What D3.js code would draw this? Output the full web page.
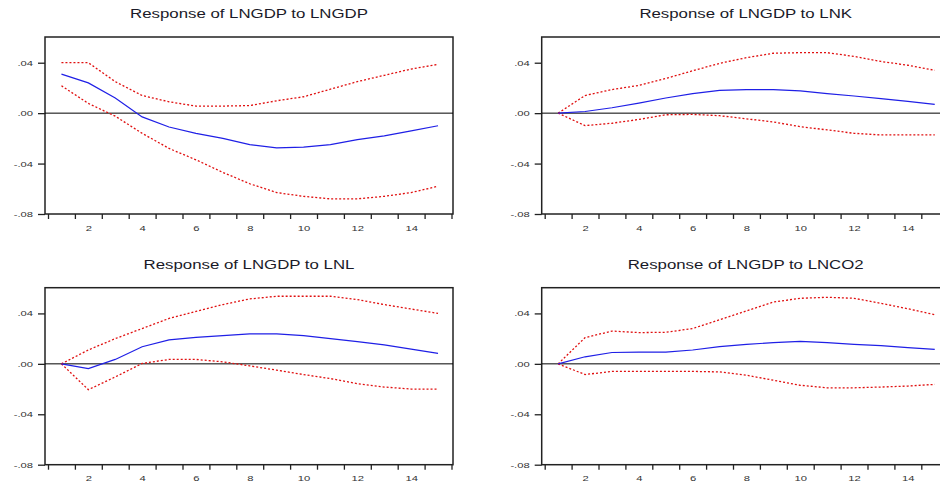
<!DOCTYPE html>
<html>
<head>
<meta charset="utf-8">
<script src="https://cdn.jsdelivr.net/npm/d3@7"></script>
<style>
body { margin: 0; background: #fff; }
svg { display: block; }
</style>
</head>
<body>
<div id="wrapper"></div>
<script>
// periods and axis labels
const periods = [1, 2, 3, 4, 5, 6, 7, 8, 9, 10, 11, 12, 13, 14, 15];
const xLabels = [2, 4, 6, 8, 10, 12, 14];
const yTicks = [-0.08, -0.04, 0, 0.04];
const yTickText = ["-.08", "-.04", ".00", ".04"];

// Response of LNGDP to LNGDP
const gdpTitle = "Response of LNGDP to LNGDP";
const gdpResp  = [0.031, 0.024, 0.012, -0.003, -0.011, -0.016, -0.020, -0.025, -0.0275, -0.027, -0.025, -0.021, -0.018, -0.014, -0.010];
const gdpUpper = [0.040, 0.040, 0.025, 0.014, 0.009, 0.0056, 0.0056, 0.006, 0.0098, 0.013, 0.019, 0.025, 0.030, 0.035, 0.0387];
const gdpLower = [0.0217, 0.0077, -0.0024, -0.016, -0.028, -0.037, -0.047, -0.056, -0.063, -0.066, -0.068, -0.068, -0.066, -0.063, -0.058];

// Response of LNGDP to LNK
const kTitle = "Response of LNGDP to LNK";
const kResp  = [0, 0.0013, 0.0043, 0.008, 0.012, 0.0155, 0.018, 0.0187, 0.0187, 0.0176, 0.0155, 0.0136, 0.0115, 0.0093, 0.007];
const kUpper = [0, 0.014, 0.0187, 0.022, 0.0275, 0.0336, 0.0395, 0.044, 0.0475, 0.048, 0.048, 0.045, 0.041, 0.038, 0.034];
const kLower = [0, -0.0099, -0.008, -0.005, -0.0013, -0.001, -0.002, -0.0045, -0.007, -0.0107, -0.0133, -0.016, -0.0173, -0.0173, -0.0173];

// Response of LNGDP to LNL
const lTitle = "Response of LNGDP to LNL";
const lResp  = [0, -0.0037, 0.0035, 0.0136, 0.019, 0.021, 0.0224, 0.0237, 0.0237, 0.0224, 0.020, 0.0176, 0.015, 0.0117, 0.0083];
const lUpper = [0, 0.011, 0.020, 0.028, 0.036, 0.0416, 0.047, 0.0515, 0.0536, 0.0536, 0.0536, 0.051, 0.047, 0.0435, 0.040];
const lLower = [0, -0.0205, -0.0104, 0.0003, 0.0035, 0.0035, 0.0016, -0.0016, -0.005, -0.0085, -0.0117, -0.0157, -0.0184, -0.020, -0.020];

// Response of LNGDP to LNCO2
const coTitle = "Response of LNGDP to LNCO2";
const coResp  = [0, 0.0056, 0.009, 0.0093, 0.0093, 0.011, 0.0136, 0.0155, 0.0168, 0.0179, 0.0168, 0.0155, 0.0144, 0.0128, 0.0115];
const coUpper = [0, 0.0208, 0.026, 0.0248, 0.025, 0.028, 0.035, 0.042, 0.049, 0.052, 0.0528, 0.052, 0.048, 0.0437, 0.039];
const coLower = [0, -0.0085, -0.006, -0.006, -0.006, -0.006, -0.0064, -0.009, -0.013, -0.017, -0.019, -0.019, -0.0184, -0.0176, -0.0163];

const panels = [
    { title: gdpTitle, resp: gdpResp, upper: gdpUpper, lower: gdpLower, left: 45, top: 37 },
    { title: kTitle, resp: kResp, upper: kUpper, lower: kLower, left: 541.7, top: 37 },
    { title: lTitle, resp: lResp, upper: lUpper, lower: lLower, left: 45, top: 287.7 },
    { title: coTitle, resp: coResp, upper: coUpper, lower: coLower, left: 541.7, top: 287.7 },
];

const dimensions = { width: 940, height: 481, plotWidth: 408, plotHeight: 177 };
const textStretch = 1.4; // the reference text is wider than normal

const wrapper = d3.select("#wrapper")
    .append("svg")
    .attr("width", dimensions.width)
    .attr("height", dimensions.height);

const xScaler = d3.scaleLinear()
    .domain([0.5, 15.5])
    .range([3, 406.5]);

const yScaler = d3.scaleLinear()
    .domain([-0.08, 0.0604])
    .range([dimensions.plotHeight, 0]);

// widen text horizontally, like the reference
function stretch(sel) {
    sel.each(function () {
        const len = this.getComputedTextLength();
        this.setAttribute("textLength", len * textStretch);
        this.setAttribute("lengthAdjust", "spacingAndGlyphs");
    });
}

const lineGen = d3.line()
    .x((d, i) => xScaler(periods[i]))
    .y(d => yScaler(d));

panels.forEach(p => {
    const bounds = wrapper.append("g")
        .attr("transform", `translate(${p.left},${p.top})`);

    // title
    bounds.append("text")
        .attr("x", dimensions.plotWidth / 2)
        .attr("y", -19)
        .attr("text-anchor", "middle")
        .attr("font-family", "Liberation Sans, Arial, sans-serif")
        .attr("font-size", "12px")
        .attr("fill", "#1a1a28")
        .text(p.title)
        .call(stretch);

    // y axis
    const yAxisGen = d3.axisLeft(yScaler)
        .tickValues(yTicks)
        .tickSize(7)
        .tickPadding(5)
        .tickFormat((d, i) => yTickText[i]);
    const yAxis = bounds.append("g").call(yAxisGen);
    yAxis.select(".domain").remove();
    yAxis.selectAll("line").attr("stroke", "#222").attr("stroke-width", 1.3);
    yAxis.selectAll("text")
        .attr("font-family", "Liberation Sans, Arial, sans-serif")
        .attr("font-size", "8px")
        .attr("fill", "#333")
        .call(stretch);

    // x axis ticks at period boundaries
    const xAxisGen = d3.axisBottom(xScaler)
        .tickValues(d3.range(0.5, 16, 1))
        .tickSize(5)
        .tickFormat("");
    const xAxis = bounds.append("g")
        .attr("transform", `translate(0,${dimensions.plotHeight})`)
        .call(xAxisGen);
    xAxis.select(".domain").remove();
    xAxis.selectAll("line").attr("stroke", "#222").attr("stroke-width", 1.3);

    // x labels centred on periods
    const xLabelGen = d3.axisBottom(xScaler)
        .tickValues(xLabels)
        .tickSize(0)
        .tickPadding(11);
    const xLabelAxis = bounds.append("g")
        .attr("transform", `translate(0,${dimensions.plotHeight})`)
        .call(xLabelGen);
    xLabelAxis.select(".domain").remove();
    xLabelAxis.selectAll("text")
        .attr("font-family", "Liberation Sans, Arial, sans-serif")
        .attr("font-size", "8px")
        .attr("fill", "#333")
        .call(stretch);

    // frame
    bounds.append("rect")
        .attr("x", 0)
        .attr("y", 0)
        .attr("width", dimensions.plotWidth)
        .attr("height", dimensions.plotHeight)
        .attr("fill", "none")
        .attr("stroke", "#222")
        .attr("stroke-width", 1.5);

    // zero line
    bounds.append("line")
        .attr("x1", 0)
        .attr("x2", dimensions.plotWidth)
        .attr("y1", yScaler(0))
        .attr("y2", yScaler(0))
        .attr("stroke", "black")
        .attr("stroke-width", 1);

    // confidence bands
    [p.upper, p.lower].forEach(band => {
        bounds.append("path")
            .datum(band)
            .attr("d", lineGen)
            .attr("fill", "none")
            .attr("stroke", "#e01010")
            .attr("stroke-width", 1.3)
            .attr("stroke-dasharray", "2 2");
    });

    // response
    bounds.append("path")
        .datum(p.resp)
        .attr("d", lineGen)
        .attr("fill", "none")
        .attr("stroke", "#1f1fe6")
        .attr("stroke-width", 1.2);
});
</script>
</body>
</html>
